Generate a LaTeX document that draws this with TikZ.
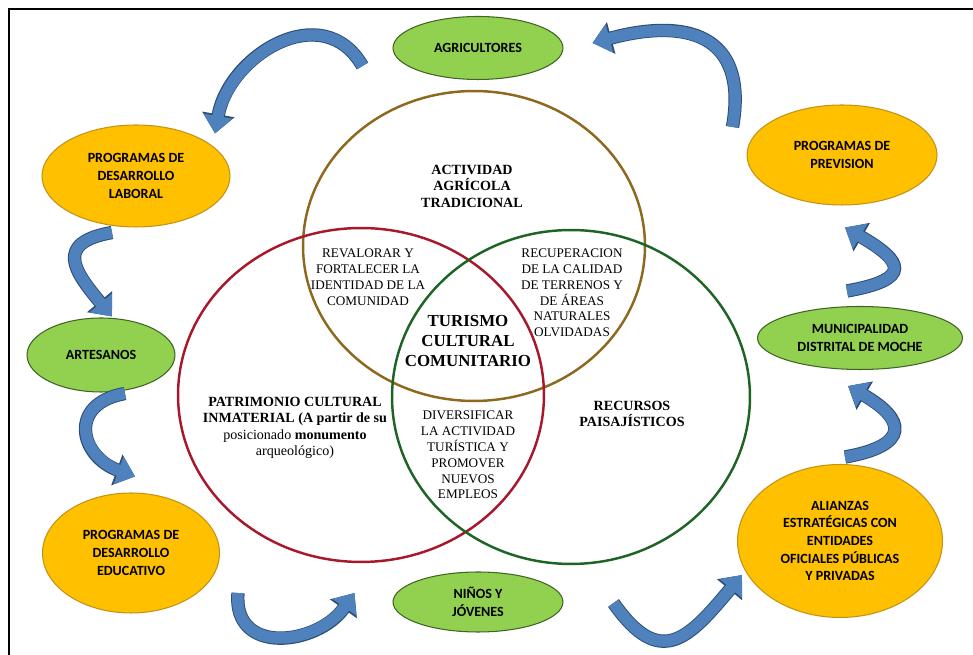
\documentclass[tikz,border=0pt]{standalone}
\usepackage{fontspec}
\setmainfont{Liberation Serif}
\newfontfamily\calibri{Carlito}
\usepackage{tikz}
\usetikzlibrary{shapes.geometric,arrows.meta}
\definecolor{oro}{RGB}{255,192,0}
\definecolor{oroborde}{RGB}{196,146,20}
\definecolor{verde}{RGB}{146,208,80}
\definecolor{verdeborde}{RGB}{64,100,36}
\definecolor{azul}{RGB}{79,129,189}
\definecolor{azulborde}{RGB}{44,77,117}
\definecolor{cafe}{RGB}{142,104,28}
\definecolor{rojo}{RGB}{168,24,44}
\definecolor{verdeoscuro}{RGB}{30,100,36}
\tikzstyle{actor} = [ellipse, draw=verdeborde, line width=0.6pt, fill=verde, inner sep=0pt, text=black, align=center, font=\calibri\bfseries\fontsize{8}{10}\selectfont]
\tikzstyle{programa} = [ellipse, draw=oroborde, line width=0.6pt, fill=oro, inner sep=0pt, text=black, align=center, font=\calibri\bfseries\fontsize{8}{10}\selectfont]
\tikzstyle{anillo} = [ellipse, line width=1.4pt, inner sep=0pt, fill=none]
\tikzstyle{titulo} = [draw=none, fill=none, align=center, font=\bfseries\fontsize{8}{9.4}\selectfont]
\tikzstyle{centro} = [draw=none, fill=none, align=center, font=\bfseries\fontsize{9.6}{11.6}\selectfont]
\tikzstyle{cruce} = [draw=none, fill=none, align=center, font=\fontsize{7.5}{9}\selectfont]
\tikzstyle{flecha} = [draw=azul, line width=6.5pt, -{Triangle[length=10pt,width=16pt]}, preaction={draw=azulborde, line width=7.6pt, -{Triangle[length=11pt,width=18pt]}}]

\begin{document}
\begin{tikzpicture}[x=0.02cm, y=0.02cm]
\useasboundingbox (0,0) rectangle (973,655);
\draw[line width=1pt] (9,0) -- (9,646) -- (973,646);

% rings =============================
\node[anillo, draw=cafe, minimum width=6.84cm, minimum height=6.2cm] (actividad) at (474,409) {};
\node[anillo, draw=rojo, minimum width=7.32cm, minimum height=6.68cm] (patrimonio) at (361,260) {};
\node[anillo, draw=verdeoscuro, minimum width=7.16cm, minimum height=6.68cm] (recursos) at (571,258) {};

% ring texts =============================
\node[titulo] (tactividad) at (472,469) {ACTIVIDAD\\AGRÍCOLA\\TRADICIONAL};
\node[cruce] (revalorar) at (368,378) {REVALORAR Y\\FORTALECER LA\\IDENTIDAD DE LA\\COMUNIDAD};
\node[cruce] (recuperacion) at (572,362) {RECUPERACION\\DE LA CALIDAD\\DE TERRENOS Y\\DE ÁREAS\\NATURALES\\OLVIDADAS};
\node[centro] (turismo) at (468,314) {TURISMO\\CULTURAL\\COMUNITARIO};
\node[titulo] (tpatrimonio) at (295,227) {PATRIMONIO CULTURAL\\INMATERIAL (A partir de su\\{\mdseries posicionado} monumento\\{\mdseries arqueológico)}};
\node[cruce] (diversificar) at (468,200) {DIVERSIFICAR\\LA ACTIVIDAD\\TURÍSTICA Y\\PROMOVER\\NUEVOS\\EMPLEOS};
\node[titulo] (trecursos) at (632,241) {RECURSOS\\PAISAJÍSTICOS};

% actors =============================
\node[actor, minimum width=3.4cm, minimum height=1.26cm] (agri) at (478,607) {AGRICULTORES};
\node[programa, minimum width=3.76cm, minimum height=2.04cm] (laboral) at (136,479) {PROGRAMAS DE\\DESARROLLO\\LABORAL};
\node[programa, minimum width=3.8cm, minimum height=2cm] (prevision) at (842,500) {PROGRAMAS DE\\PREVISION};
\node[actor, minimum width=2.96cm, minimum height=1.48cm] (artesanos) at (101,300) {ARTESANOS};
\node[actor, minimum width=4.1cm, minimum height=1.26cm] (muni) at (860,317) {MUNICIPALIDAD\\DISTRITAL DE MOCHE};
\node[programa, minimum width=3.54cm, minimum height=2.4cm] (educativo) at (131,102) {PROGRAMAS DE\\DESARROLLO\\EDUCATIVO};
\node[actor, minimum width=3.4cm, minimum height=1.2cm] (ninos) at (478,53) {NIÑOS Y\\JÓVENES};
\node[programa, minimum width=4.1cm, minimum height=3.06cm] (alianzas) at (840,114) {ALIANZAS\\ESTRATÉGICAS CON\\ENTIDADES\\OFICIALES PÚBLICAS\\Y PRIVADAS};

% arrow ends =============================
\coordinate (agri-s) at ([shift={(-30,-18)}]agri.west);
\coordinate (laboral-e) at ([shift={(79,-9)}]laboral.north);
\coordinate (prevision-s) at ([shift={(-14,28)}]prevision.west);
\coordinate (agri-e) at ([shift={(29,5)}]agri.east);
\coordinate (laboral-s) at ([shift={(-24,-5)}]laboral.south);
\coordinate (artesanos-e) at ([shift={(11,1)}]artesanos.north);
\coordinate (artesanos-s) at ([shift={(24,-1)}]artesanos.south);
\coordinate (educativo-e) at ([shift={(4,16)}]educativo.north);
\coordinate (educativo-s) at ([shift={(18,-40)}]educativo.east);
\coordinate (ninos-e) at ([shift={(-38,9)}]ninos.west);
\coordinate (ninos-s) at ([shift={(50,-1)}]ninos.east);
\coordinate (alianzas-e) at ([shift={(5,-34)}]alianzas.west);
\coordinate (alianzas-s) at ([shift={(5,7)}]alianzas.north);
\coordinate (muni-e) at ([shift={(-12,-16)}]muni.south);
\coordinate (muni-s) at ([shift={(-13,15)}]muni.north);
\coordinate (prevision-e) at ([shift={(3,-22)}]prevision.south);

% edges =============================
\path[flecha] (agri-s) to[out=120, in=80, looseness=1.25] (laboral-e);
\path[flecha] (prevision-s) to[out=80, in=15, looseness=1.5] (agri-e);
\path[flecha] (laboral-s) to[out=190, in=130, looseness=1.8] (artesanos-e);
\path[flecha] (artesanos-s) to[out=190, in=160, looseness=1.8] (educativo-e);
\path[flecha] (educativo-s) to[out=265, in=235, looseness=1.4] (ninos-e);
\path[flecha] (ninos-s) to[out=305, in=230, looseness=1.6] (alianzas-e);
\path[flecha] (alianzas-s) to[out=10, in=330, looseness=2.4] (muni-e);
\path[flecha] (muni-s) to[out=10, in=330, looseness=2.7] (prevision-e);

\end{tikzpicture}
\end{document}
